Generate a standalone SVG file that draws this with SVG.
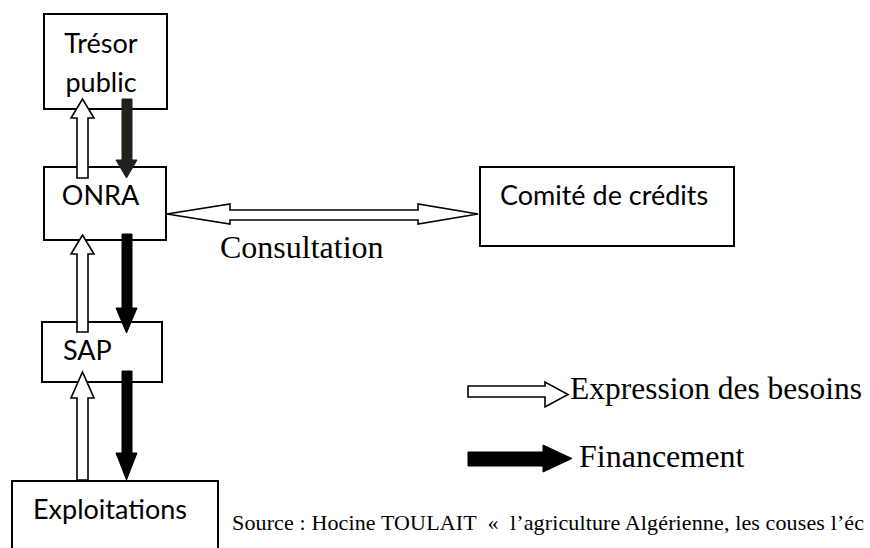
<svg xmlns="http://www.w3.org/2000/svg" width="870" height="548" viewBox="0 0 870 548">
<style>
.box{fill:#fff;stroke:#000;stroke-width:2}
.lbl{font-family:Lato,"Open Sans","Liberation Sans",sans-serif;font-size:27px;fill:#000}
.tnr{font-family:"Liberation Serif","Times New Roman",serif;fill:#000}
.wa{fill:#fff;stroke:#000;stroke-width:1.6;stroke-linejoin:miter}
.ba{fill:#000;stroke:#000;stroke-width:1}
</style>
<rect width="870" height="548" fill="#fff"/>
<g id="tresor">
<rect class="box" x="44" y="14" width="123" height="95"/>
<text class="lbl" x="101" y="53" text-anchor="middle">Trésor</text>
<text class="lbl" x="101" y="92" text-anchor="middle">public</text>
</g>
<g id="onra">
<rect class="box" x="44" y="167" width="122" height="73"/>
<text class="lbl" x="100.5" y="205" text-anchor="middle">ONRA</text>
</g>
<g id="sap">
<rect class="box" x="42" y="322" width="120" height="60"/>
<text class="lbl" x="63" y="360">SAP</text>
</g>
<g id="exploitations">
<rect class="box" x="12" y="481" width="206" height="90"/>
<text class="lbl" x="33" y="519">Exploitations</text>
</g>
<g id="comite">
<rect class="box" x="480" y="167" width="254" height="79"/>
<text class="lbl" x="500" y="205">Comité de crédits</text>
</g>
<g id="connectors">
<polygon class="wa" points="77,178 77,118 71,118 82.5,99 94,118 88,118 88,178"/>
<polygon class="ba" style="fill:#231f1a;stroke:#231f1a" points="122,99 132,99 132,160 137,160 126.5,178 116,160 122,160"/>
<polygon class="wa" points="77,332 77,254 71,254 82.5,235 94,254 88,254 88,332"/>
<polygon class="ba" points="122,234 132,234 132,308 137,308 126.5,333 116,308 122,308"/>
<polygon class="wa" points="77,480 77,398 71,398 82.5,372 94,398 88,398 88,480"/>
<polygon class="ba" points="122,371 132,371 132,453 137,453 126.5,480 116,453 122,453"/>
<polygon class="wa" points="167,214 230,204 230,210 418,210 418,204 478,214 418,224 418,220 230,220 230,224"/>
<text class="tnr" x="220" y="258" font-size="32">Consultation</text>
</g>
<g id="legend">
<polygon class="wa" points="468,386 545,386 545,382 568,394.5 545,407 545,397 468,397"/>
<text class="tnr" x="570" y="399" font-size="32" textLength="292" lengthAdjust="spacingAndGlyphs">Expression des besoins</text>
<polygon class="ba" points="468,452 543,452 543,445 572,458.5 543,472 543,466 468,466"/>
<text class="tnr" x="579" y="467" font-size="32">Financement</text>
</g>
<text class="tnr" x="232" y="530" font-size="22" textLength="632" lengthAdjust="spacing" xml:space="preserve">Source : Hocine TOULAIT  «  l’agriculture Algérienne, les couses l’éc</text>
</svg>
